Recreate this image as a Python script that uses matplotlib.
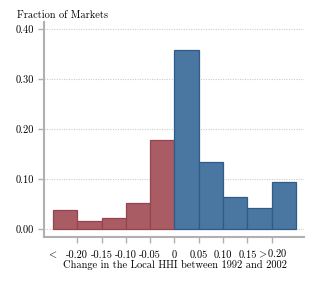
import matplotlib
matplotlib.use('Agg')
import matplotlib.pyplot as plt

plt.rcParams['font.family'] = 'cmr10'
plt.rcParams['mathtext.fontset'] = 'cm'
plt.rcParams['axes.unicode_minus'] = False

# datos del histograma (fraccion de mercados por bin)
bordes = [-0.25, -0.20, -0.15, -0.10, -0.05, 0.0, 0.05, 0.10, 0.15, 0.20]
fracciones = [0.038, 0.016, 0.023, 0.052, 0.179, 0.359, 0.135, 0.064, 0.043, 0.095]
ticks_x = [-0.25, -0.20, -0.15, -0.10, -0.05, 0.0, 0.05, 0.10, 0.15, 0.20]
etiquetas_x = ['$<$', '-0.20', '-0.15', '-0.10', '-0.05', '0', '0.05', '0.10', '0.15', r'$>\!$0.20']
ticks_y = [0.0, 0.1, 0.2, 0.3, 0.4]
etiquetas_y = ['0.00', '0.10', '0.20', '0.30', '0.40']

rojo, rojo_borde = '#a95c63', '#924551'
azul, azul_borde = '#4a77a1', '#2e5c8a'
gris = '#b0b0b0'
tam = 7.5

fig = plt.figure(figsize=(3.14, 2.89), dpi=100)
ax = fig.add_axes([44 / 314, 1 - 237 / 289, 260 / 314, 215 / 289])

colores = [rojo if b < 0 else azul for b in bordes]
bordes_col = [rojo_borde if b < 0 else azul_borde for b in bordes]
ax.bar(bordes, fracciones, width=0.05, align='edge', color=colores,
       edgecolor=bordes_col, linewidth=0.9, zorder=3)

ax.set_xlim(-0.2685, 0.2665)
ax.set_ylim(-0.016, 0.414)

for y in ticks_y:
    ax.axhline(y, color='#cccccc', linestyle=(0, (1, 1.2)), linewidth=0.8, zorder=1)

ax.set_yticks(ticks_y)
ax.set_yticklabels(etiquetas_y, fontsize=tam)
ax.set_xticks(ticks_x)
ax.set_xticklabels(etiquetas_x, fontsize=tam)
ax.tick_params(axis='y', color=gris, length=4, width=1, pad=3)
ax.tick_params(axis='x', color=gris, length=4, width=1, pad=11)
for lbl in ax.get_xticklabels():
    lbl.set_va('baseline')
ax.xaxis.get_major_ticks()[0].tick1line.set_visible(False)
ax.xaxis.get_major_ticks()[0].label1.set_x(-0.2565)

for lado in ['top', 'right']:
    ax.spines[lado].set_visible(False)
for lado in ['left', 'bottom']:
    ax.spines[lado].set_color(gris)
    ax.spines[lado].set_linewidth(1.5)

fig.text(17 / 314, 1 - 15 / 289, 'Fraction of Markets', fontsize=tam, va='center', ha='left')
fig.text(174.5 / 314, 1 - 265 / 289, 'Change in the Local HHI between 1992 and 2002',
         fontsize=tam, va='center', ha='center')

plt.savefig('out.png', dpi=100)
